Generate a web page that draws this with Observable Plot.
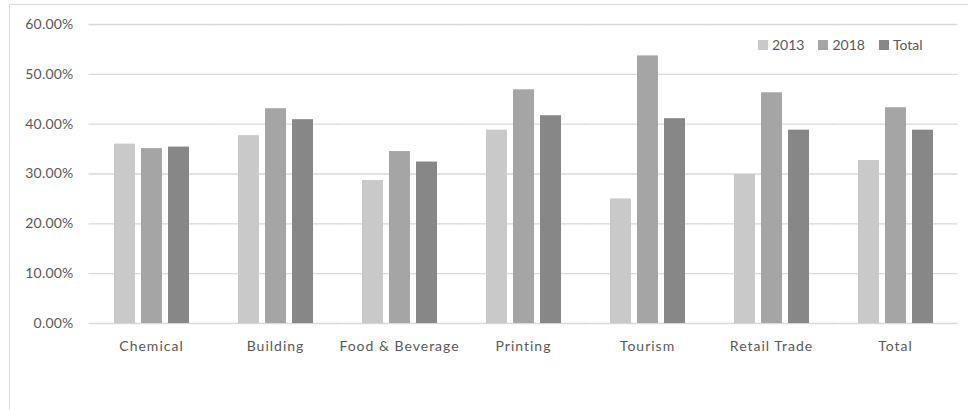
<!DOCTYPE html>
<html><head><meta charset="utf-8">
<script src="https://cdn.jsdelivr.net/npm/d3@7"></script>
<script src="https://cdn.jsdelivr.net/npm/@observablehq/plot@0.6"></script>
<style>
body{margin:0;background:#fff;font-family:Lato,"Open Sans",sans-serif;}
#wrap{position:relative;width:968px;height:410px;overflow:hidden;}
#frame{position:absolute;left:9px;top:4px;width:990px;height:430px;border:1px solid #d9d9d9;box-sizing:border-box;}
#chart{position:absolute;left:0;top:0;}
#legend{position:absolute;top:36px;left:758px;font-size:14px;color:#595959;display:flex;align-items:center;}
#legend .it{display:flex;align-items:center;margin-right:14px;}
#legend .sw{width:10px;height:10px;margin-right:4px;display:inline-block;}
[aria-label="fx-axis tick label"]{letter-spacing:1px;font-size:14px;}
[aria-label="y-axis tick label"]{font-size:14px;letter-spacing:0.2px;}
</style>
</head><body>
<div id="wrap"><div id="frame"></div><div id="chart"></div><div id="legend"></div></div>
<script>
const categories = ["Chemical","Building","Food & Beverage","Printing","Tourism","Retail Trade","Total"];
const seriesNames = ["2013","2018","Total"];
const values2013 = [0.360,0.377,0.287,0.388,0.250,0.299,0.327];
const values2018 = [0.351,0.431,0.345,0.469,0.537,0.463,0.433];
const valuesTotal = [0.354,0.409,0.324,0.417,0.411,0.388,0.388];
const seriesColors = ["#c9c9c9","#a5a5a5","#878787"];
const yTicks = [0,0.1,0.2,0.3,0.4,0.5,0.6];

const seriesValues = [values2013, values2018, valuesTotal];
const rows = [];
categories.forEach((c,i)=>seriesNames.forEach((s,j)=>rows.push({category:c, series:s, value:seriesValues[j][i]})));

const plot = Plot.plot({
  width: 968, height: 410,
  marginLeft: 88, marginRight: 9, marginTop: 24, marginBottom: 87,
  style: {fontFamily: "Lato, 'Open Sans', sans-serif", fontSize: "13px", color: "#595959", background: "transparent"},
  fx: {domain: categories, paddingInner: 0.337, paddingOuter: 0.1685, label: null, axis: "bottom", tickSize: 0, tickPadding: 18},
  x: {domain: seriesNames, padding: 0, axis: null},
  y: {domain: [0, 0.6], ticks: yTicks, tickFormat: d3.format(".2%"), tickSize: 0, tickPadding: 37, label: null},
  color: {domain: seriesNames, range: seriesColors},
  marks: [
    Plot.ruleY(yTicks, {stroke: "#d9d9d9", strokeWidth: 1.3, insetLeft: -21.5, insetRight: -21.5}),
    Plot.barY(rows, {fx: "category", x: "series", y: "value", fill: "series", insetLeft: 3, insetRight: 3})
  ]
});
document.getElementById("chart").appendChild(plot);

const lg = document.getElementById("legend");
seriesNames.forEach((s,j)=>{
  const it = document.createElement("span"); it.className="it";
  const sw = document.createElement("span"); sw.className="sw"; sw.style.background=seriesColors[j];
  it.appendChild(sw); it.appendChild(document.createTextNode(s)); lg.appendChild(it);
});
</script>
</body></html>
